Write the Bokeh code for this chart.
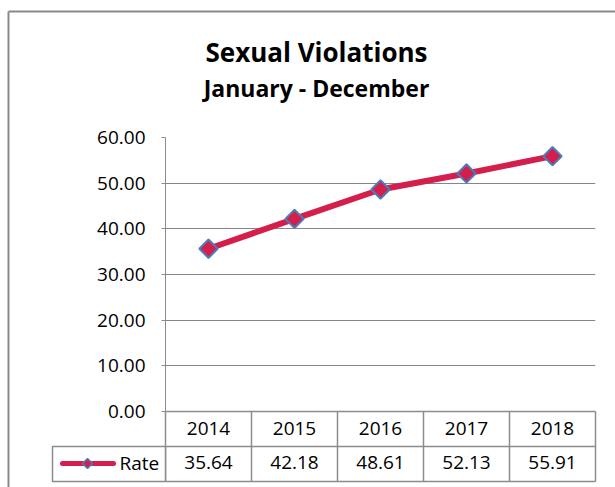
from bokeh.plotting import figure
from bokeh.models import FactorRange, Range1d, FixedTicker, NumeralTickFormatter, ColumnDataSource
from bokeh.core.properties import value
from bokeh.embed import file_html
from bokeh.resources import INLINE
import math

# ---- data ----
years = ["2014", "2015", "2016", "2017", "2018"]
rate = [35.64, 42.18, 48.61, 52.13, 55.91]
y_ticks = [0, 10, 20, 30, 40, 50, 60]
title = "Sexual Violations"
subtitle = "January - December"
series_name = "Rate"

# ---- style / geometry (pixels in the picture) ----
W, H = 615, 487
FONT = "Open Sans"
GRAY = "#8c8c8c"
RED = "#D41E4B"
BLUE = "#4A7EBB"
Y_MAX = 60
F_LEFT, F_RIGHT, F_TOP, F_BOT = 165, 595, 137, 411
COL_PX = (F_RIGHT - F_LEFT) / len(years)


def px_x(px):
    return (px - F_LEFT) / COL_PX


def px_y(py):
    return (F_BOT - py) * Y_MAX / (F_BOT - F_TOP)


p = figure(width=W, height=H, x_range=FactorRange(*years), y_range=Range1d(0, Y_MAX),
           output_backend="svg", toolbar_location=None,
           min_border_left=F_LEFT, min_border_right=W - F_RIGHT,
           min_border_top=F_TOP, min_border_bottom=H - F_BOT)
p.outline_line_color = None
p.background_fill_color = "white"
p.border_fill_color = "white"

# y axis
p.yaxis.ticker = FixedTicker(ticks=y_ticks)
p.yaxis.formatter = NumeralTickFormatter(format="0.00")
p.yaxis.axis_line_color = GRAY
p.yaxis.major_tick_line_color = GRAY
p.yaxis.major_tick_out = 4
p.yaxis.major_tick_in = 0
p.yaxis.minor_tick_line_color = None
p.yaxis.major_label_standoff = 16
p.yaxis.major_label_text_font = FONT
p.yaxis.major_label_text_font_size = "19px"
p.yaxis.major_label_text_color = "black"

# x axis -> years row of the data table
p.xaxis.axis_line_color = GRAY
p.xaxis.axis_line_width = 1.5
p.xaxis.major_tick_line_color = None
p.xaxis.minor_tick_line_color = None
p.xaxis.major_label_standoff = 4
p.xaxis.major_label_text_font = FONT
p.xaxis.major_label_text_font_size = "19px"
p.xaxis.major_label_text_color = "black"

p.xgrid.grid_line_color = None
p.ygrid.grid_line_color = "#868686"
p.ygrid.grid_line_width = 1

# series
src = ColumnDataSource(dict(x=years, y=rate, lbl=[f"{v:.2f}" for v in rate]))
p.line("x", "y", source=src, line_color=RED, line_width=6, line_join="round", line_cap="round")
p.scatter("x", "y", source=src, marker="square", angle=math.pi / 4, size=13,
          fill_color=RED, line_color=BLUE, line_width=2)

# data table grid
n = len(years)
row1_bot = px_y(446)
row2_bot = px_y(481)
p.segment(x0=list(range(n + 1)), y0=[0] * (n + 1), x1=list(range(n + 1)), y1=[row2_bot] * (n + 1),
          line_color=GRAY, line_width=1.5, level="overlay")
p.segment(x0=[0, 0], y0=[row1_bot, row2_bot], x1=[n, n], y1=[row1_bot, row2_bot],
          line_color=GRAY, line_width=1.5, level="overlay")
p.text("x", value(px_y(462)), text="lbl", source=src, text_align="center", text_baseline="middle",
       text_font=value(FONT), text_font_size="19px", text_color="black", level="overlay")

# legend-key cell of the data table
p.quad(left=[px_x(52)], right=[0], top=[row1_bot], bottom=[row2_bot], fill_color="white",
       line_color=GRAY, line_width=1.5, level="overlay")
p.segment(x0=[px_x(62)], y0=[px_y(463)], x1=[px_x(113)], y1=[px_y(463)], line_color=RED,
          line_width=5, line_cap="round", level="overlay")
d = 5
p.patch(x=[px_x(87 - d), px_x(87), px_x(87 + d), px_x(87)],
        y=[px_y(463), px_y(463 - d), px_y(463), px_y(463 + d)],
        fill_color=RED, line_color=BLUE, line_width=1.5, level="overlay")
p.text([px_x(119)], [px_y(462)], text=[series_name], text_align="left", text_baseline="middle",
       text_font=value(FONT), text_font_size="19px", text_color="black", level="overlay")

# titles
p.text([px_x(316)], [px_y(51)], text=[title], text_align="center", text_baseline="middle",
       text_font=value(FONT), text_font_style="bold", text_font_size="26px", text_color="black",
       level="overlay")
p.text([px_x(316)], [px_y(87)], text=[subtitle], text_align="center", text_baseline="middle",
       text_font=value(FONT), text_font_style="bold", text_font_size="23px", text_color="black",
       level="overlay")

# outer chart border (top and left edges visible)
p.segment(x0=[px_x(8), px_x(8)], y0=[px_y(11), px_y(11)], x1=[px_x(700), px_x(8)],
          y1=[px_y(11), px_y(700)], line_color="#8a8a8a", line_width=2, level="overlay")

open("out.html", "w").write(file_html(p, INLINE))
